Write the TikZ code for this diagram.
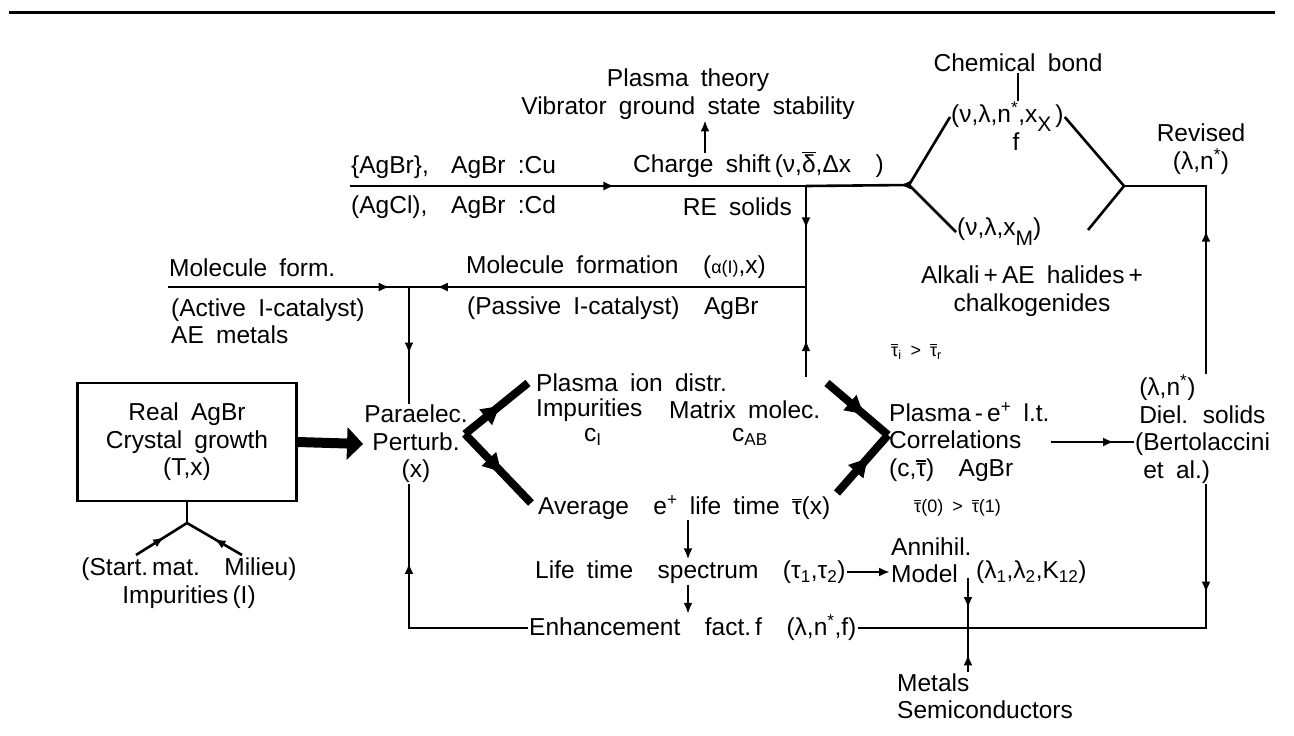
\documentclass[tikz,border=0pt]{standalone}
\usepackage{fontspec}
\setmainfont{Liberation Sans}[WordSpace=1.8]
\usepackage{tikz}
\usetikzlibrary{arrows.meta, positioning, calc, decorations.markings}
\newcommand{\ovbar}[1]{\vbox{\hrule height 1.2pt\kern 1.8pt\hbox{#1}}}
\tikzstyle{txt} = [inner sep=1pt, font=\fontsize{24.5}{27.5}\selectfont]
\tikzstyle{smalltxt} = [inner sep=1pt, font=\fontsize{18}{20}\selectfont]
\tikzstyle{flow} = [line width=2.6pt]
\tikzstyle{heavy} = [line width=8pt]
\tikzstyle{arrow} = [flow, -{Latex[length=11pt,width=9pt]}]
\tikzset{
  midtip/.style={postaction={decorate}, decoration={markings, mark=at position #1 with {\arrow{Latex[length=11pt,width=9pt]}}}},
  bigtip/.style={postaction={decorate}, decoration={markings, mark=at position #1 with {\arrow{Triangle[length=18pt,width=19pt]}}}}
}

\begin{document}
\begin{tikzpicture}[x=1pt, y=-1pt]
        \useasboundingbox (0,0) rectangle (1294,736);
        \draw[line width=3pt] (9,12) -- (1275,12);

        % top row
        \node (theory) [txt, align=center] at (688,94) {Plasma theory\\Vibrator ground state stability};
        \node (shift) [txt, anchor=west] at (632,165) {Charge shift\,(ν,\ovbar{δ},Δx\quad)};
        \node (culine) [txt, anchor=west] at (350,167) {\makebox[100pt][l]{\{AgBr\},}AgBr :Cu};
        \node (cdline) [txt, anchor=west] at (350,207) {\makebox[100pt][l]{(AgCl),}AgBr :Cd};
        \node (resolid) [txt, anchor=east] at (793,207) {RE solids};
        \node (chem) [txt] at (1018,63) {Chemical bond};
        \node (bondA) [txt, anchor=west] at (950,117) {(ν,λ,n\textsuperscript{*},x\raisebox{-9pt}{\fontsize{21}{21}\selectfont X}\,)};
        \node (bondf) [txt] at (1016,142) {f};
        \node (bondB) [txt, anchor=west] at (956,232) {(ν,λ,x\raisebox{-10pt}{\fontsize{21}{21}\selectfont M})};
        \node (alkali) [txt, align=center] at (1032,291) {Alkali\,+\,AE halides\,+\\chalkogenides};
        \node (revised) [txt, align=center] at (1201,149) {Revised\\(λ,n\textsuperscript{*})};

        % molecule row
        \node (molform) [txt, anchor=west] at (168,268) {Molecule form.};
        \node (active) [txt, anchor=west, align=left] at (170,321) {(Active I-catalyst)\\AE metals};
        \node (molec) [txt, anchor=west] at (465,267) {Molecule formation\quad({\fontsize{18}{20}\selectfont α(I)},x)};
        \node (passive) [txt, anchor=west] at (466,308) {(Passive I-catalyst)\quad AgBr};

        \coordinate (cuL) at (350,186);
        \coordinate (shiftJ) at (806,186);
        \coordinate (chemL) at (909,185);
        \coordinate (chemR) at (1124,186);
        \coordinate (revC) at (1206,186);
        \coordinate (bBend) at (1088,230);
        \coordinate (csTop) at (705,153);
        \coordinate (molL) at (168,287);
        \coordinate (molJ) at (409,287);
        \coordinate (molR) at (806,287);
        \coordinate (matTop) at (806,377);

        % crystal and perturbation
        \node (crystal) [txt, draw, flow, align=center, minimum width=219pt, minimum height=118pt] at (187,442) {Real AgBr\\Crystal growth\\(T,x)};
        \node (para) [txt, align=center] at (416,444) {Paraelec.\\Perturb.\\(x)};
        \node (start) [txt, align=center] at (189,583) {(Start.\,mat.\quad Milieu)\\Impurities\,(I)};
        \coordinate (stemJ) at (187,523);
        \coordinate (startL) at (136,555);
        \coordinate (startR) at (242,555);

        % plasma block
        \node (ions) [txt, anchor=west] at (535,383) {Plasma\enspace ion\enspace distr.};
        \node (impur) [txt, anchor=west] at (535,410) {Impurities};
        \node (matrix) [txt, anchor=west] at (668,410) {Matrix\enspace molec.};
        \node (cI) [txt] at (593,437) {c\textsubscript{I}};
        \node (cAB) [txt] at (750,437) {c\textsubscript{AB}};
        \node (avg) [txt, anchor=west] at (537,508) {Average\quad e\textsuperscript{+} life time\enspace\ovbar{τ}(x)};
        \coordinate (fanL) at (465,434);
        \coordinate (fanR) at (888,435);
        \coordinate (matEnd) at (827,383);
        \coordinate (avgEnd) at (837,493);

        % correlations and solids
        \node (taus) [smalltxt, anchor=west] at (890,352) {\ovbar{τ}\textsubscript{i} > \ovbar{τ}\textsubscript{r}};
        \node (corr) [txt, anchor=west, align=left] at (888,442) {Plasma\,-\,e\textsuperscript{+} l.t.\\Correlations\\(c,\ovbar{τ})\quad AgBr};
        \node (tau0) [smalltxt, anchor=west] at (913,508) {\ovbar{τ}(0) > \ovbar{τ}(1)};
        \node (diel) [txt, anchor=west, align=left] at (1134,429) {\,(λ,n\textsuperscript{*})\\\,Diel. solids\\(Bertolaccini\\\,\,et al.)};

        % spectrum rows
        \node (spec) [txt, anchor=west] at (534,572) {Life time\quad spectrum\quad(τ\textsubscript{1},τ\textsubscript{2})};
        \node (model) [txt, anchor=west, align=left] at (890,560) {Annihil.\\Model};
        \node (kpar) [txt, anchor=west] at (975,572) {(λ\textsubscript{1},λ\textsubscript{2},K\textsubscript{12})};
        \node (enh) [txt, anchor=west] at (528,628) {Enhancement\quad fact.\,f\quad(λ,n\textsuperscript{*},f)};
        \node (metals) [txt, anchor=west, align=left] at (896,696) {Metals\\Semiconductors};
        \coordinate (avgDown) at (688,520);
        \coordinate (modelX) at (968,578);

        % connectors
        \draw[flow, midtip=0.58] (cuL) -- (shiftJ);
        \draw[flow, midtip=0.09] (chemL) -- (shiftJ);
        \draw[arrow] (csTop) -- (csTop |- theory.south);
        \draw[flow] (chem.south) -- (chem.south |- bondA.north);
        \draw[flow] (bondA.west) -- (chemL) -- (bondB.west);
        \draw[flow] (bondA.east) -- (chemR) -- (bBend);
        \draw[flow, midtip=0.53] (diel.north -| revC) -- (revC) -- (chemR);
        \draw[flow, midtip=0.42] (shiftJ) -- (molR);
        \draw[flow, midtip=0.41] (matTop) -- (molR);
        \draw[flow, midtip=0.93] (molR) -- (molJ);
        \draw[flow, midtip=0.92] (molL) -- (molJ);
        \draw[flow, midtip=0.57] (molJ) -- (molJ |- para.north);
        \draw[line width=10pt, -{Triangle[length=16pt,width=32pt]}] (crystal.east) -- (para.west);
        \draw[flow] (stemJ) -- (crystal.south);
        \draw[flow, midtip=0.55] (startL) -- (stemJ);
        \draw[flow, midtip=0.5] (startR) -- (stemJ);
        \draw[heavy, bigtip=0.55] (fanL) -- ([xshift=-7pt]ions.west);
        \draw[heavy, bigtip=0.55] (fanL) -- ([xshift=-6pt,yshift=5pt]avg.west);
        \draw[heavy, bigtip=0.6] (matEnd) -- (fanR);
        \draw[heavy, bigtip=0.6] (avgEnd) -- (fanR);
        \draw[flow, midtip=0.76] (corr.east) -- (corr.east -| diel.west);
        \draw[arrow] (avgDown) -- (avgDown |- spec.north);
        \draw[arrow] (avgDown |- spec.south) -- (avgDown |- enh.north);
        \draw[arrow] (spec.east) -- (spec.east -| model.west);
        \draw[flow, midtip=0.6] (modelX) -- (modelX |- enh.center);
        \draw[flow, midtip=0.4] (metals.north -| modelX) -- (modelX |- enh.center);
        \draw[flow, midtip=0.22] (diel.south -| revC) |- (enh.east);
        \draw[flow, midtip=0.7] (enh.west) -| (molJ |- para.south);
\end{tikzpicture}
\end{document}
